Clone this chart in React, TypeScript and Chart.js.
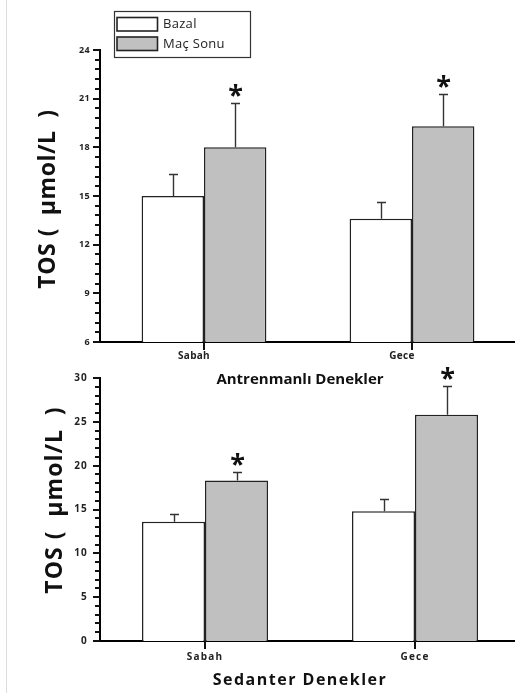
import React, { useEffect, useRef } from "react";
import { Chart, registerables } from "chart.js";

Chart.register(...registerables);

// ---------- data ----------
const categories = ["Sabah", "Gece"];
const seriesNames = ["Bazal", "Maç Sonu"];

// Antrenmanlı Denekler (top panel)
const trainedBazal = [15.0, 13.6];
const trainedBazalErr = [1.35, 1.05];
const trainedMacSonu = [18.0, 19.3];
const trainedMacSonuErr = [2.75, 2.0];
const trainedSignificant = [true, true];
const trainedYRange = [6, 24];
const trainedYMajorStep = 3;
const trainedYMinorStep = 0.6;

// Sedanter Denekler (bottom panel)
const sedentaryBazal = [13.6, 14.8];
const sedentaryBazalErr = [0.9, 1.35];
const sedentaryMacSonu = [18.3, 25.8];
const sedentaryMacSonuErr = [0.95, 3.3];
const sedentarySignificant = [true, true];
const sedentaryYRange = [0, 30];
const sedentaryYMajorStep = 5;
const sedentaryYMinorStep = 1;

const yTitle = "TOS (  μmol/L  )";
const topXTitle = "Antrenmanlı Denekler";
const bottomXTitle = "Sedanter Denekler";

const FONT = "'Open Sans', 'DejaVu Sans', sans-serif";

type PanelCfg = {
  canvasTop: number;
  canvasHeight: number;
  canvasWidth: number;
  padTop: number;
  xHeight: number;
  bazal: number[];
  bazalErr: number[];
  mac: number[];
  macErr: number[];
  sig: boolean[];
  yRange: number[];
  majorStep: number;
  minorStep: number;
  xTitle: string;
  xTitlePos: [number, number];
  xTitleFont: string;
  xTitleSpacing: string;
  yTitlePos: [number, number];
  yTitleFont: string;
  yTitleSpacing: string;
  tickSpacing: string;
  yTickFont: number;
  xTickFont: number;
  xLabelOffset: number;
  yPad: number;
  xPad: number;
  legend: boolean;
};

function makeDecor(cfg: PanelCfg) {
  return {
    id: "decor",
    beforeDraw(chart: any) {
      chart.ctx.letterSpacing = cfg.tickSpacing;
    },
    afterDraw(chart: any) {
      const ctx: CanvasRenderingContext2D = chart.ctx;
      const xs = chart.scales.x;
      const ys = chart.scales.y;
      const area = chart.chartArea;
      ctx.save();
      ctx.letterSpacing = "0px";
      // y ticks (major + minor), outward from the axis
      const ymin = cfg.yRange[0];
      const ymax = cfg.yRange[1];
      const nMinor = Math.round((ymax - ymin) / cfg.minorStep);
      const perMajor = Math.round(cfg.majorStep / cfg.minorStep);
      ctx.fillStyle = "#111";
      for (let i = 0; i <= nMinor; i++) {
        const v = ymin + i * cfg.minorStep;
        const py = Math.round(ys.getPixelForValue(v));
        const major = i % perMajor === 0;
        const len = major ? 7 : 5;
        ctx.fillRect(area.left - len, py - 1, len, 2);
      }
      // x ticks at category centres
      for (let i = 0; i < categories.length; i++) {
        const px = Math.round(xs.getPixelForValue(i));
        ctx.fillRect(px - 1, area.bottom, 2, 8);
      }
      // error bars
      const errs = [cfg.bazalErr, cfg.macErr];
      const vals = [cfg.bazal, cfg.mac];
      ctx.strokeStyle = "#333";
      ctx.lineWidth = 1.4;
      for (let d = 0; d < 2; d++) {
        const meta = chart.getDatasetMeta(d);
        meta.data.forEach((bar: any, i: number) => {
          const x = Math.round(bar.x) + 0.5;
          const y0 = ys.getPixelForValue(vals[d][i]);
          const y1 = Math.round(ys.getPixelForValue(vals[d][i] + errs[d][i])) + 0.5;
          ctx.beginPath();
          ctx.moveTo(x, y0);
          ctx.lineTo(x, y1);
          ctx.moveTo(x - 4.5, y1);
          ctx.lineTo(x + 4.5, y1);
          ctx.stroke();
          if (d === 1 && cfg.sig[i]) {
            ctx.font = `bold 27px ${FONT}`;
            ctx.fillStyle = "#111";
            ctx.textAlign = "center";
            ctx.textBaseline = "alphabetic";
            const m = ctx.measureText("*");
            const cy = y1 - 13.5;
            const base = cy + (m.actualBoundingBoxAscent - m.actualBoundingBoxDescent) / 2;
            ctx.fillText("*", x, base);
          }
        });
      }
      // x title
      ctx.fillStyle = "#111";
      ctx.font = cfg.xTitleFont;
      ctx.letterSpacing = cfg.xTitleSpacing;
      ctx.textAlign = "center";
      ctx.textBaseline = "middle";
      ctx.fillText(cfg.xTitle, cfg.xTitlePos[0], cfg.xTitlePos[1]);
      // y title
      ctx.save();
      ctx.translate(cfg.yTitlePos[0], cfg.yTitlePos[1]);
      ctx.rotate(-Math.PI / 2);
      ctx.font = cfg.yTitleFont;
      ctx.letterSpacing = cfg.yTitleSpacing;
      ctx.fillText(yTitle, 0, 0);
      ctx.restore();
      // legend
      if (cfg.legend) {
        ctx.letterSpacing = "0px";
        ctx.strokeStyle = "#333";
        ctx.lineWidth = 1.2;
        ctx.fillStyle = "#fff";
        ctx.fillRect(114.5, 11.5, 136, 46);
        ctx.strokeRect(114.5, 11.5, 136, 46);
        const fills = ["#ffffff", "#c0c0c0"];
        const rows = [17.5, 37];
        for (let k = 0; k < 2; k++) {
          ctx.fillStyle = fills[k];
          ctx.fillRect(117, rows[k], 40.5, 13.5);
          ctx.lineWidth = 1.6;
          ctx.strokeStyle = "#222";
          ctx.strokeRect(117, rows[k], 40.5, 13.5);
          ctx.fillStyle = "#222";
          ctx.font = `13px ${FONT}`;
          ctx.letterSpacing = "0.3px";
          ctx.textAlign = "left";
          ctx.textBaseline = "middle";
          ctx.fillText(seriesNames[k], 163, rows[k] + 7);
        }
      }
      ctx.restore();
    },
  };
}

function Panel({ cfg }: { cfg: PanelCfg }) {
  const ref = useRef<HTMLCanvasElement>(null);
  useEffect(() => {
    const canvas = ref.current!;
    const chart = new Chart(canvas, {
      type: "bar",
      data: {
        labels: categories,
        datasets: [
          {
            label: seriesNames[0],
            data: cfg.bazal,
            backgroundColor: "#ffffff",
            borderColor: "#222",
            borderWidth: 1.5,
            categoryPercentage: 0.6,
            barPercentage: 1,
          },
          {
            label: seriesNames[1],
            data: cfg.mac,
            backgroundColor: "#c0c0c0",
            borderColor: "#222",
            borderWidth: 1.5,
            categoryPercentage: 0.6,
            barPercentage: 1,
          },
        ],
      },
      options: {
        responsive: false,
        maintainAspectRatio: false,
        animation: false,
        layout: { padding: { top: cfg.padTop, left: 0, right: 0, bottom: 0 } },
        plugins: { legend: { display: false }, tooltip: { enabled: false } },
        scales: {
          x: {
            grid: { display: false, drawTicks: false },
            border: { display: true, color: "#000", width: 2 },
            ticks: {
              color: "#222",
              padding: cfg.xPad,
              labelOffset: cfg.xLabelOffset,
              font: { family: FONT, size: cfg.xTickFont, weight: "bold" },
            },
            afterFit: (s: any) => {
              s.height = cfg.xHeight;
            },
          },
          y: {
            min: cfg.yRange[0],
            max: cfg.yRange[1],
            grid: { display: false, drawTicks: false },
            border: { display: true, color: "#000", width: 2 },
            ticks: {
              stepSize: cfg.majorStep,
              color: "#222",
              padding: cfg.yPad,
              font: { family: FONT, size: cfg.yTickFont, weight: "bold" },
            },
            afterFit: (s: any) => {
              s.width = 100;
            },
          },
        },
      } as any,
      plugins: [makeDecor(cfg)],
    });
    return () => chart.destroy();
  }, []);
  return (
    <canvas
      ref={ref}
      width={cfg.canvasWidth}
      height={cfg.canvasHeight}
      style={{
        position: "absolute",
        left: 0,
        top: cfg.canvasTop,
        width: cfg.canvasWidth,
        height: cfg.canvasHeight,
      }}
    />
  );
}

const topCfg: PanelCfg = {
  canvasTop: 0,
  canvasHeight: 395,
  canvasWidth: 516,
  padTop: 50,
  xHeight: 53,
  bazal: trainedBazal,
  bazalErr: trainedBazalErr,
  mac: trainedMacSonu,
  macErr: trainedMacSonuErr,
  sig: trainedSignificant,
  yRange: trainedYRange,
  majorStep: trainedYMajorStep,
  minorStep: trainedYMinorStep,
  xTitle: topXTitle,
  xTitlePos: [300, 380],
  xTitleFont: `bold 15px ${FONT}`,
  xTitleSpacing: "0px",
  yTitlePos: [48, 199],
  yTitleFont: `bold 23px ${FONT}`,
  yTitleSpacing: "0.5px",
  tickSpacing: "0.3px",
  yTickFont: 9,
  xTickFont: 10,
  xLabelOffset: -10,
  yPad: 10,
  xPad: 8,
  legend: true,
};

const bottomCfg: PanelCfg = {
  canvasTop: 360,
  canvasHeight: 335,
  canvasWidth: 520,
  padTop: 11,
  xHeight: 54,
  bazal: sedentaryBazal,
  bazalErr: sedentaryBazalErr,
  mac: sedentaryMacSonu,
  macErr: sedentaryMacSonuErr,
  sig: sedentarySignificant,
  yRange: sedentaryYRange,
  majorStep: sedentaryYMajorStep,
  minorStep: sedentaryYMinorStep,
  xTitle: bottomXTitle,
  xTitlePos: [300, 320],
  xTitleFont: `bold 16px ${FONT}`,
  xTitleSpacing: "1.5px",
  yTitlePos: [55, 140],
  yTitleFont: `bold 23px ${FONT}`,
  yTitleSpacing: "1px",
  tickSpacing: "1.2px",
  yTickFont: 10,
  xTickFont: 10,
  xLabelOffset: 0,
  yPad: 12,
  xPad: 10,
  legend: false,
};

export default function App() {
  return (
    <div
      style={{
        position: "absolute",
        left: 0,
        top: 0,
        width: 515,
        height: 695,
        overflow: "hidden",
        background: "#fff",
      }}
    >
      <div
        style={{
          position: "absolute",
          left: 6,
          top: 0,
          width: 1,
          height: 693,
          background: "#dcdcdc",
        }}
      />
      <Panel cfg={topCfg} />
      <Panel cfg={bottomCfg} />
    </div>
  );
}
